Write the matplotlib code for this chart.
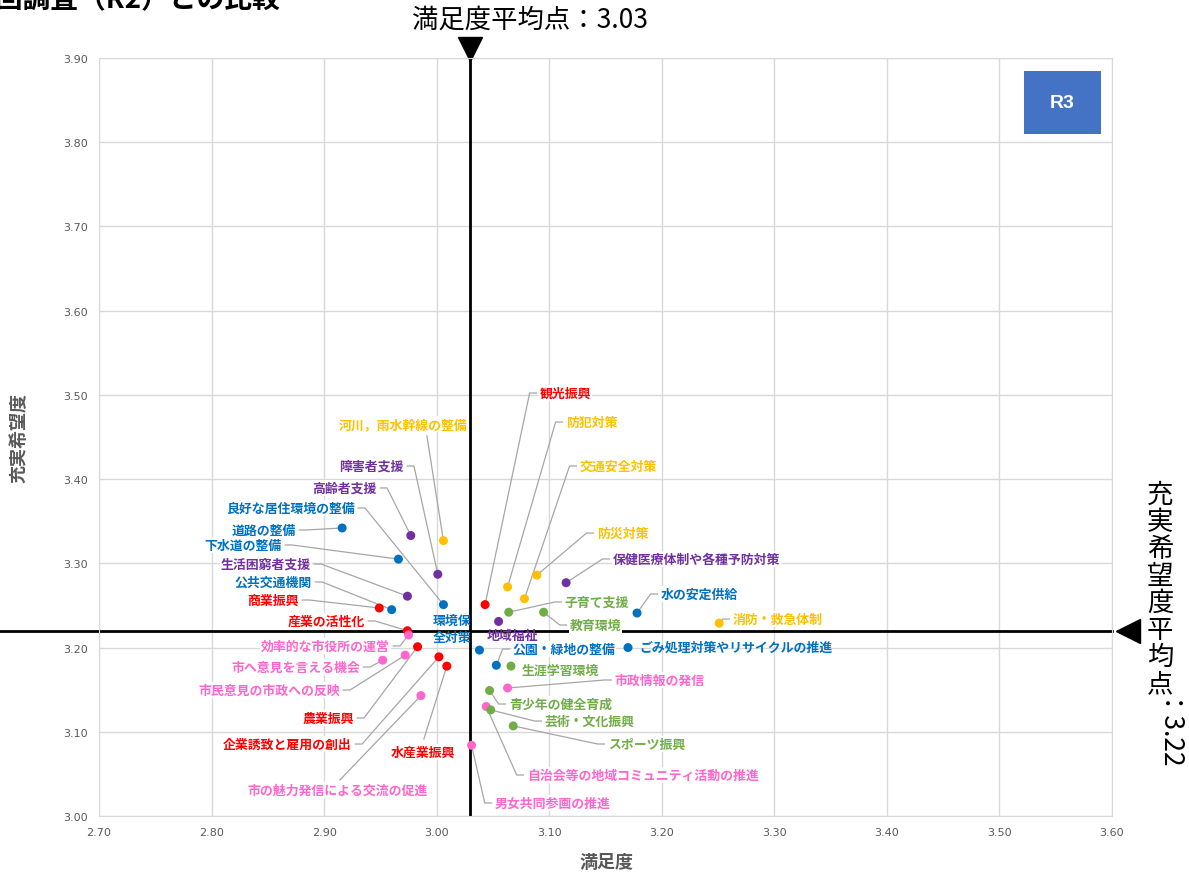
import matplotlib.pyplot as plt
from matplotlib.patches import Rectangle

plt.rcParams['font.family'] = ['Noto Sans CJK JP', 'DejaVu Sans']

# 施策項目
names = [
    "道路の整備", "下水道の整備", "良好な居住環境の整備", "公共交通機関",
    "環境保\n全対策", "公園・緑地の整備", "ごみ処理対策やリサイクルの推進", "水の安定供給",
    "観光振興", "商業振興", "産業の活性化", "農業振興", "企業誘致と雇用の創出", "水産業振興",
    "効率的な市役所の運営", "市へ意見を言える機会", "市民意見の市政への反映",
    "市の魅力発信による交流の促進", "市政情報の発信", "自治会等の地域コミュニティ活動の推進",
    "男女共同参画の推進",
    "子育て支援", "教育環境", "生涯学習環境", "青少年の健全育成", "芸術・文化振興", "スポーツ振興",
    "河川，雨水幹線の整備", "防犯対策", "交通安全対策", "防災対策", "消防・救急体制",
    "障害者支援", "高齢者支援", "生活困窮者支援", "保健医療体制や各種予防対策", "地域福祉",
]
# 満足度
satisfaction = [
    2.916, 2.966, 3.006, 2.960, 3.038, 3.053, 3.170, 3.178,
    3.043, 2.949, 2.974, 2.983, 3.002, 3.009,
    2.975, 2.952, 2.972, 2.986, 3.063, 3.044, 3.031,
    3.064, 3.095, 3.066, 3.047, 3.048, 3.068,
    3.006, 3.063, 3.078, 3.089, 3.251,
    3.001, 2.977, 2.974, 3.115, 3.055,
]
# 充実希望度
hope = [
    3.342, 3.305, 3.251, 3.245, 3.197, 3.179, 3.200, 3.241,
    3.251, 3.247, 3.220, 3.201, 3.189, 3.178,
    3.215, 3.185, 3.191, 3.143, 3.152, 3.130, 3.084,
    3.242, 3.242, 3.178, 3.149, 3.126, 3.107,
    3.327, 3.272, 3.258, 3.286, 3.229,
    3.287, 3.333, 3.261, 3.277, 3.231,
]
groups = (["都市基盤"] * 8 + ["産業"] * 6 + ["行政"] * 7 + ["教育"] * 6
          + ["安全"] * 5 + ["福祉"] * 5)
group_colors = {
    "都市基盤": "#0070C0", "産業": "#FF0000", "行政": "#FF66CC",
    "教育": "#70AD47", "安全": "#FFC000", "福祉": "#7030A0",
}
sat_mean = 3.03
hope_mean = 3.22

# label placement: (x, y, ha, leader)  leader: "elbow", None or start point
label_layout = [
    (2.8749, 3.3396, "right", "elbow"), (2.8625, 3.3218, "right", "elbow"),
    (2.9273, 3.3657, "right", "elbow"), (2.8892, 3.2779, "right", "elbow"),
    (3.0135, 3.2230, "center", None), (3.0676, 3.1983, "left", "elbow"),
    (3.1804, 3.2007, "left", None), (3.1991, 3.2636, "left", "elbow"),
    (3.0916, 3.5022, "left", "elbow"), (2.8776, 3.2565, "right", "elbow"),
    (2.9362, 3.2316, "right", "elbow"), (2.9264, 3.1164, "right", "elbow"),
    (2.9247, 3.0855, "right", "elbow"), (2.9877, 3.0760, "center", (2.9886, 3.0914)),
    (2.9584, 3.2019, "right", "elbow"), (2.9318, 3.1769, "right", "elbow"),
    (2.9140, 3.1496, "right", "elbow"), (2.9122, 3.0309, "center", (2.9140, 3.0428)),
    (3.1582, 3.1615, "left", "elbow"), (3.0801, 3.0487, "left", "elbow"),
    (3.0517, 3.0155, "left", "elbow"),
    (3.1138, 3.2541, "left", "elbow"), (3.1183, 3.2268, "left", "elbow"),
    (3.0756, 3.1734, "left", None), (3.0641, 3.1330, "left", "elbow"),
    (3.0960, 3.1128, "left", "elbow"), (3.1520, 3.0855, "left", "elbow"),
    (2.9700, 3.4655, "center", (2.9913, 3.4513)), (3.1147, 3.4678, "left", "elbow"),
    (3.1271, 3.4156, "left", "elbow"), (3.1422, 3.3360, "left", "elbow"),
    (3.2630, 3.2339, "left", "elbow"),
    (2.9708, 3.4156, "right", "elbow"), (2.9469, 3.3895, "right", "elbow"),
    (2.8883, 3.2992, "right", "elbow"), (3.1564, 3.3052, "left", "elbow"),
    (3.0676, 3.2150, "center", None),
]

fig = plt.figure(figsize=(11.89, 8.79), dpi=100)
ax = fig.add_axes([0.0833, 0.0705, 0.8519, 0.8624])

ax.set_xlim(2.70, 3.60)
ax.set_ylim(3.00, 3.90)
xt = [2.70 + 0.1 * i for i in range(10)]
yt = [3.00 + 0.1 * i for i in range(10)]
ax.set_xticks(xt)
ax.set_yticks(yt)
ax.set_xticklabels([f"{v:.2f}" for v in xt])
ax.set_yticklabels([f"{v:.2f}" for v in yt])
ax.tick_params(length=0, labelsize=8, labelcolor="#595959", pad=8)
for lab in ax.get_xticklabels() + ax.get_yticklabels():
    lab.set_family("DejaVu Sans")
ax.grid(color="#D9D9D9", linewidth=1)
ax.set_axisbelow(True)
for s in ax.spines.values():
    s.set_color("#D9D9D9")

# mean lines
ax.axvline(sat_mean, color="black", linewidth=2, zorder=2)
ax.plot([-0.098, 1.0], [hope_mean, hope_mean], color="black", linewidth=2,
        transform=ax.get_yaxis_transform(), clip_on=False, zorder=2)
ax.plot([sat_mean], [3.911], marker="v", markersize=17, color="black", clip_on=False)
ax.plot([3.614], [hope_mean], marker="<", markersize=17, color="black", clip_on=False)

gap = 0.003
seg = 0.006
lead_col = "#A6A6A6"
for i, name in enumerate(names):
    col = group_colors[groups[i]]
    dx, dy = satisfaction[i], hope[i]
    tx, ty, ha, leader = label_layout[i]
    if leader == "elbow":
        if ha == "left":
            xs = [dx, tx - gap - seg, tx - gap]
        else:
            xs = [dx, tx + gap + seg, tx + gap]
        ax.plot(xs, [dy, ty, ty], color=lead_col, linewidth=0.9, zorder=3)
    elif leader is not None:
        ax.plot([dx, leader[0]], [dy, leader[1]], color=lead_col, linewidth=0.9, zorder=3)
    bbox = None
    if leader is not None:
        bbox = dict(facecolor="white", edgecolor="none", pad=0.5)
    ax.text(tx, ty, name, ha=ha, va="center", color=col, fontsize=9.3,
            fontweight="bold", linespacing=1.3, bbox=bbox, zorder=4)

ax.scatter(satisfaction, hope, s=42, c=[group_colors[g] for g in groups],
           zorder=5, linewidths=0)

# R3 badge
fig.patches.append(Rectangle((0.8612, 0.8464), 0.0648, 0.0717, transform=fig.transFigure,
                             facecolor="#4472C4", edgecolor="none"))
fig.text(0.8936, 0.8822, "R3", ha="center", va="center", color="white",
         fontsize=14, fontweight="bold", family="Liberation Sans")

# axis titles
fig.text(0.5097, 0.019, "満足度", ha="center", va="center", fontsize=13,
         fontweight="bold", color="#595959")
fig.text(0.016, 0.5017, "充実希望度", ha="center", va="center", rotation=90,
         fontsize=13, fontweight="bold", color="#595959")

# mean annotations
fig.text(0.4458, 0.9772, "満足度平均点：3.03", ha="center", va="center", fontsize=19)
fig.text(0.9756, 0.2060, "\n".join("充実希望度平均点"), ha="center", va="bottom",
         fontsize=19, linespacing=1.0)
fig.text(0.9756, 0.2040, "：3.22", ha="center", va="top", rotation=270, fontsize=19)

# clipped heading
fig.text(-0.027, 1.001, "前回調査（R2）との比較", ha="left", va="center",
         fontsize=20, fontweight="bold")

fig.savefig("out.png", dpi=100)
